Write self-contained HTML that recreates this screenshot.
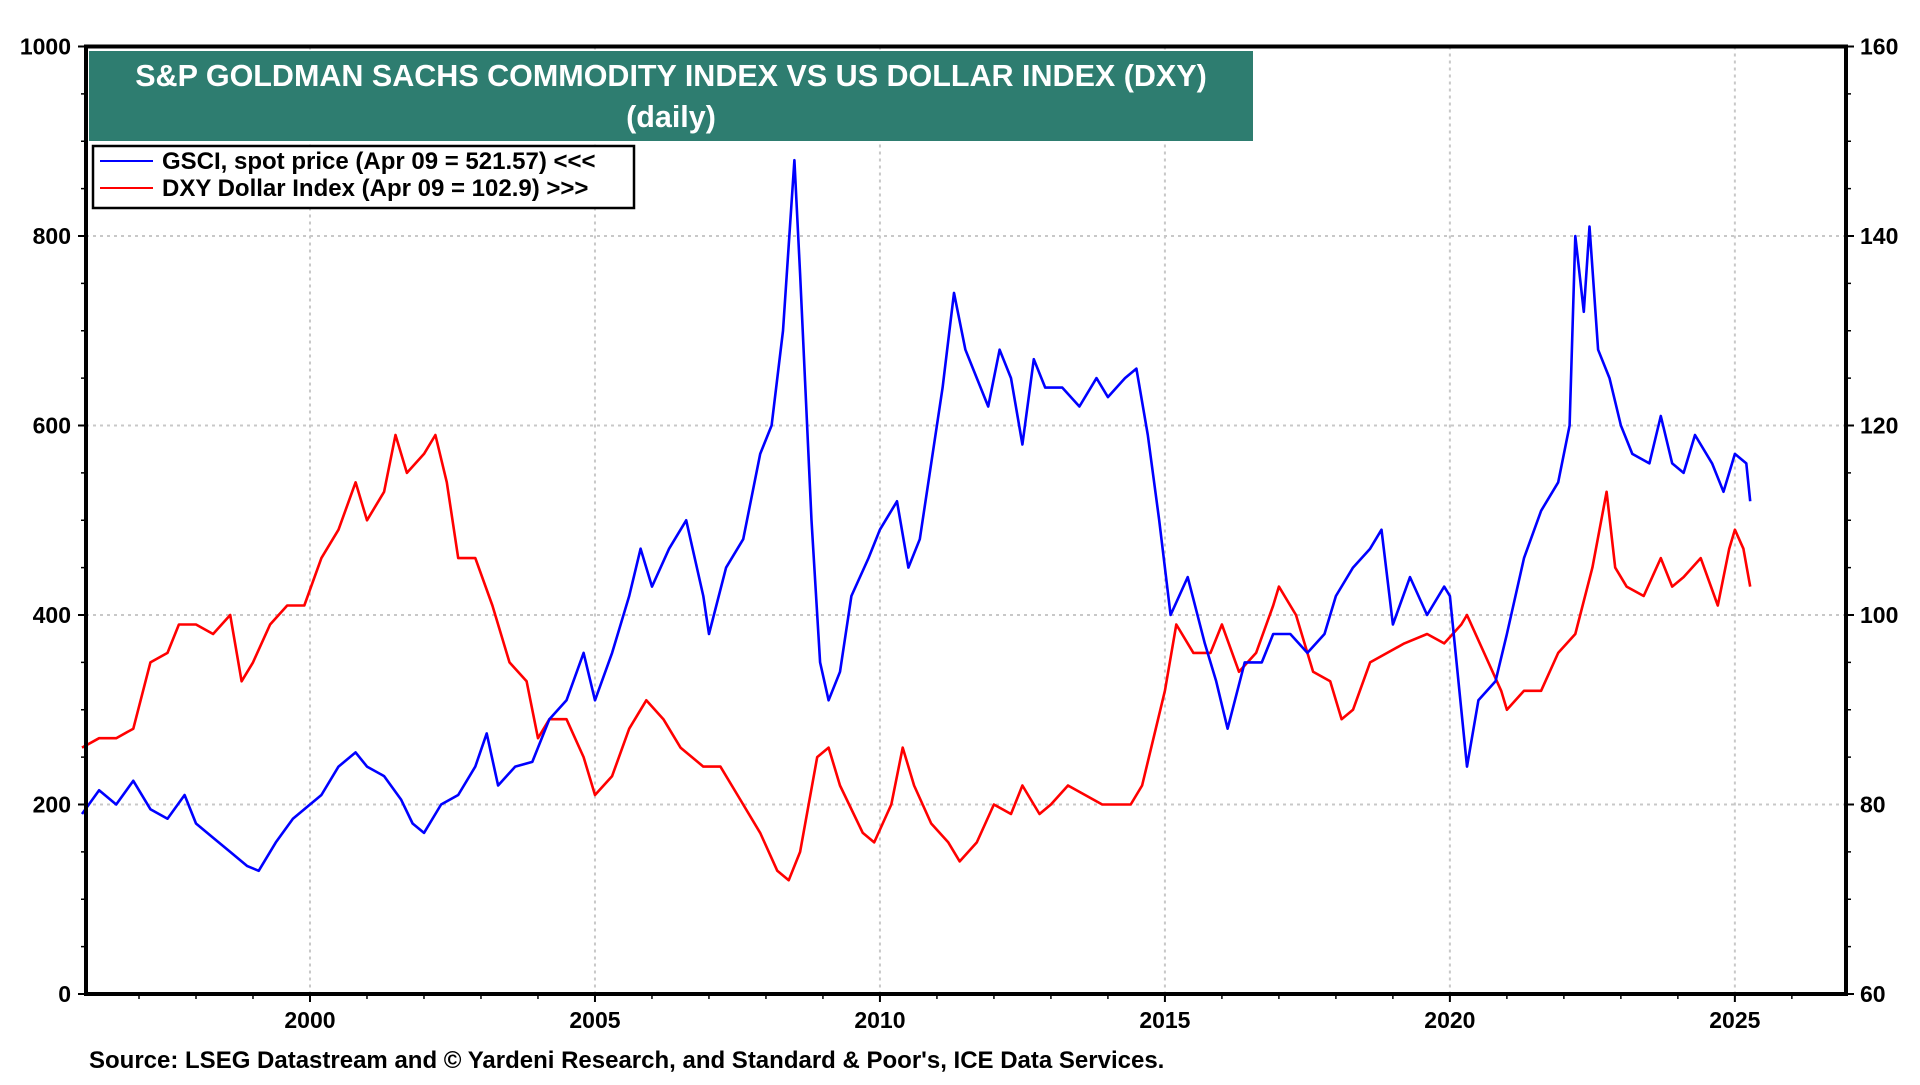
<!DOCTYPE html>
<html><head><meta charset="utf-8"><style>
html,body{margin:0;padding:0;background:#fff;}
body{width:1920px;height:1080px;overflow:hidden;font-family:"Liberation Sans",Arial,sans-serif;}
svg text{font-family:"Liberation Sans",Arial,sans-serif;font-weight:bold;}
</style></head><body>
<svg id="chart" width="1920" height="1080" viewBox="0 0 1920 1080" xmlns="http://www.w3.org/2000/svg">
<g id="grid"></g>
<g id="series"></g>
<g id="axes"></g>
<rect x="89" y="51" width="1164" height="90" fill="#2e7d70"/>
<text x="671" y="86" text-anchor="middle" font-size="30.5" fill="#fff">S&amp;P GOLDMAN SACHS COMMODITY INDEX VS US DOLLAR INDEX (DXY)</text>
<text x="671" y="127" text-anchor="middle" font-size="30.5" fill="#fff">(daily)</text>
<g>
<rect x="93" y="146" width="541" height="62" fill="#fff" stroke="#000" stroke-width="2.5"/>
<line x1="100" y1="161" x2="153" y2="161" stroke="#0000ff" stroke-width="2"/>
<text x="162" y="169" font-size="24">GSCI, spot price (Apr 09 = 521.57) &lt;&lt;&lt;</text>
<line x1="100" y1="188" x2="153" y2="188" stroke="#ff0000" stroke-width="2"/>
<text x="162" y="196" font-size="24">DXY Dollar Index (Apr 09 = 102.9) &gt;&gt;&gt;</text>
</g>
<text x="89" y="1068" font-size="24">Source: LSEG Datastream and © Yardeni Research, and Standard &amp; Poor's, ICE Data Services.</text>
</svg>
<script>
const gsciDates=[1996.0,1996.3,1996.6,1996.9,1997.2,1997.5,1997.8,1998.0,1998.3,1998.6,1998.9,1999.1,1999.4,1999.7,1999.9,2000.2,2000.5,2000.8,2001.0,2001.3,2001.6,2001.8,2002.0,2002.3,2002.6,2002.9,2003.1,2003.3,2003.6,2003.9,2004.2,2004.5,2004.8,2005.0,2005.3,2005.6,2005.8,2006.0,2006.3,2006.6,2006.9,2007.0,2007.3,2007.6,2007.9,2008.1,2008.3,2008.5,2008.6,2008.8,2008.95,2009.1,2009.3,2009.5,2009.8,2010.0,2010.3,2010.5,2010.7,2010.9,2011.1,2011.3,2011.5,2011.7,2011.9,2012.1,2012.3,2012.5,2012.7,2012.9,2013.2,2013.5,2013.8,2014.0,2014.3,2014.5,2014.7,2014.9,2015.1,2015.4,2015.7,2015.9,2016.1,2016.4,2016.7,2016.9,2017.2,2017.5,2017.8,2018.0,2018.3,2018.6,2018.8,2019.0,2019.3,2019.6,2019.9,2020.0,2020.2,2020.3,2020.5,2020.8,2021.0,2021.3,2021.6,2021.9,2022.1,2022.2,2022.35,2022.45,2022.6,2022.8,2023.0,2023.2,2023.5,2023.7,2023.9,2024.1,2024.3,2024.6,2024.8,2025.0,2025.2,2025.27];
const gsciValues=[190,215,200,225,195,185,210,180,165,150,135,130,160,185,195,210,240,255,240,230,205,180,170,200,210,240,275,220,240,245,290,310,360,310,360,420,470,430,470,500,420,380,450,480,570,600,700,880,760,500,350,310,340,420,460,490,520,450,480,560,640,740,680,650,620,680,650,580,670,640,640,620,650,630,650,660,590,500,400,440,370,330,280,350,350,380,380,360,380,420,450,470,490,390,440,400,430,420,300,240,310,330,380,460,510,540,600,800,720,810,680,650,600,570,560,610,560,550,590,560,530,570,560,520];
const dxyDates=[1996.0,1996.3,1996.6,1996.9,1997.2,1997.5,1997.7,1998.0,1998.3,1998.6,1998.8,1999.0,1999.3,1999.6,1999.9,2000.2,2000.5,2000.8,2001.0,2001.3,2001.5,2001.7,2002.0,2002.2,2002.4,2002.6,2002.9,2003.2,2003.5,2003.8,2004.0,2004.2,2004.5,2004.8,2005.0,2005.3,2005.6,2005.9,2006.2,2006.5,2006.9,2007.2,2007.5,2007.9,2008.2,2008.4,2008.6,2008.9,2009.1,2009.3,2009.7,2009.9,2010.2,2010.4,2010.6,2010.9,2011.2,2011.4,2011.7,2012.0,2012.3,2012.5,2012.8,2013.0,2013.3,2013.6,2013.9,2014.2,2014.4,2014.6,2014.8,2015.0,2015.2,2015.5,2015.8,2016.0,2016.3,2016.6,2016.9,2017.0,2017.3,2017.6,2017.9,2018.1,2018.3,2018.6,2018.9,2019.2,2019.6,2019.9,2020.2,2020.3,2020.6,2020.9,2021.0,2021.3,2021.6,2021.9,2022.2,2022.5,2022.75,2022.9,2023.1,2023.4,2023.7,2023.9,2024.1,2024.4,2024.7,2024.9,2025.0,2025.15,2025.27];
const dxyValues=[86,87,87,88,95,96,99,99,98,100,93,95,99,101,101,106,109,114,110,113,119,115,117,119,114,106,106,101,95,93,87,89,89,85,81,83,88,91,89,86,84,84,81,77,73,72,75,85,86,82,77,76,80,86,82,78,76,74,76,80,79,82,79,80,82,81,80,80,80,82,87,92,99,96,96,99,94,96,101,103,100,94,93,89,90,95,96,97,98,97,99,100,96,92,90,92,92,96,98,105,113,105,103,102,106,103,104,106,101,107,109,107,103];
const leftTicks=[0,200,400,600,800,1000];
const rightTicks=[60,80,100,120,140,160];
const yearTicks=[2000,2005,2010,2015,2020,2025];

const L=86,R=1846,T=46.5,B=994;
const X0=1996.07,X1=2026.95;
const xs=v=>L+(v-X0)/(X1-X0)*(R-L);
const yl=v=>B-(v-0)/1000*(B-T);
const yr=v=>B-(v-60)/100*(B-T);
const NS="http://www.w3.org/2000/svg";
function mk(tag,attrs,parent,txt){const e=document.createElementNS(NS,tag);for(const k in attrs)e.setAttribute(k,attrs[k]);if(txt!==undefined)e.textContent=txt;parent.appendChild(e);return e;}
const grid=document.getElementById('grid'),axes=document.getElementById('axes'),ser=document.getElementById('series');

leftTicks.forEach(v=>{
  if(v>0&&v<1000){const g=mk('line',{x1:L,x2:R,y1:yl(v),y2:yl(v),stroke:'#c8c8c8','stroke-width':2,'stroke-dasharray':'3,4'},grid);
  
  }
  const t=mk('text',{x:L-15,y:yl(v)+8,'text-anchor':'end','font-size':23},axes,String(v));
  
  
  mk('line',{x1:L-8,x2:L,y1:yl(v),y2:yl(v),stroke:'#000','stroke-width':2},axes);
});
for(let v=50;v<1000;v+=50){mk('line',{x1:L-5,x2:L,y1:yl(v),y2:yl(v),stroke:'#000','stroke-width':1.5},axes);
  mk('line',{x1:R,x2:R+5,y1:yl(v),y2:yl(v),stroke:'#000','stroke-width':1.5},axes);}
rightTicks.forEach(v=>{
  const t=mk('text',{x:R+14,y:yr(v)+8,'text-anchor':'start','font-size':23},axes,String(v));
  
  
  mk('line',{x1:R,x2:R+8,y1:yr(v),y2:yr(v),stroke:'#000','stroke-width':2},axes);
});
yearTicks.forEach(v=>{
  const g=mk('line',{x1:xs(v),x2:xs(v),y1:T,y2:B,stroke:'#c8c8c8','stroke-width':2,'stroke-dasharray':'3,4'},grid);
  
  
  const t=mk('text',{x:xs(v),y:B+34,'text-anchor':'middle','font-size':23},axes,String(v));
  
  
  mk('line',{x1:xs(v),x2:xs(v),y1:B,y2:B+8,stroke:'#000','stroke-width':2},axes);
});
for(let y=1997;y<=2026;y++){mk('line',{x1:xs(y),x2:xs(y),y1:B,y2:B+5,stroke:'#000','stroke-width':1.5},axes);}
const frame=mk('rect',{x:L,y:T,width:R-L,height:B-T,fill:'none',stroke:'#000','stroke-width':4},axes);



const dxyPts=dxyDates.map((d,i)=>xs(d).toFixed(1)+','+yr(dxyValues[i]).toFixed(1)).join(' ');
const dl=mk('polyline',{points:dxyPts,fill:'none',stroke:'#ff0000','stroke-width':2.6,'stroke-linejoin':'round'},ser);


const gPts=gsciDates.map((d,i)=>xs(d).toFixed(1)+','+yl(gsciValues[i]).toFixed(1)).join(' ');
const gl=mk('polyline',{points:gPts,fill:'none',stroke:'#0000ff','stroke-width':2.6,'stroke-linejoin':'round'},ser);


</script>
</body></html>
